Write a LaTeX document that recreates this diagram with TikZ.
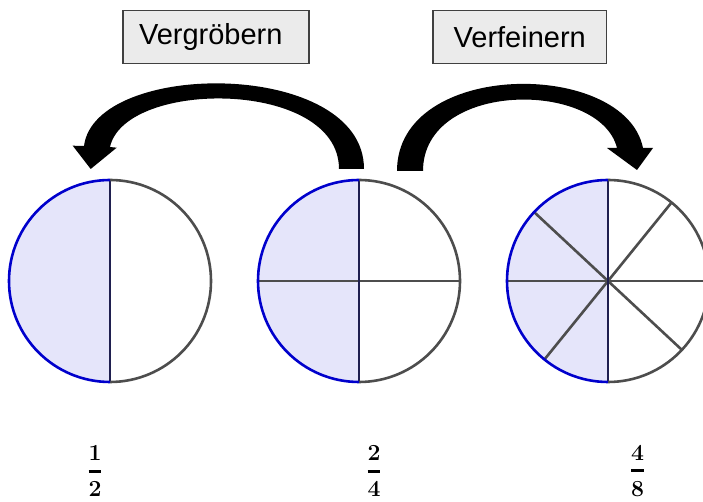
\documentclass[tikz,border=0pt]{standalone}
\usepackage{amsmath}
\usepackage{fontspec}
\newfontfamily\arial{Liberation Sans}
\usepackage{tikz}
\usetikzlibrary{shapes,arrows}
\definecolor{randblau}{HTML}{0000CC}
\definecolor{randgrau}{HTML}{4D4D4D}
\definecolor{teilfarbe}{HTML}{1F1F4F}
\definecolor{flaeche}{HTML}{E5E5FA}
\definecolor{knopfgrau}{HTML}{EBEBEB}

\begin{document}
\begin{tikzpicture}
		[
		x = 1pt, y = 1pt,
		knopf/.style = {draw = black!75, fill = knopfgrau, line width = 1.2pt, minimum height = 52.6pt, inner sep = 0pt, font = \arial\fontsize{29}{33}\selectfont},
		kreis/.style = {circle, minimum size = 202pt, inner sep = 0pt, outer sep = 0pt},
		halb/.style = {fill = flaeche},
		blaurand/.style = {draw = randblau, line width = 2.6pt},
		graurand/.style = {draw = randgrau, line width = 2.6pt},
		teiler/.style = {draw = teilfarbe, line width = 2.6pt},
		pfeil/.style = {fill = black},
		bruch/.style = {font = \fontsize{23}{27}\selectfont, inner sep = 0pt}
		]
		
		\useasboundingbox (0,0) rectangle (703,502);
		
		\node[knopf, inner xsep = 16pt, text width = 154pt, align = left] (grob) at (216,465) {Vergröbern};
		\node[knopf, minimum width = 173.5pt] (fein) at (519.75,465) {Verfeinern};
		
		\node[kreis] (k1) at (110,221) {};
		\node[kreis] (k2) at (359,221) {};
		\node[kreis] (k3) at (608,221) {};
		
		% halbe
		\fill[halb] (k1.north) arc[start angle = 90, end angle = 270, radius = 101] -- cycle;
		\draw[teiler] (k1.north) -- (k1.south);
		\draw[graurand] (k1.south) arc[start angle = -90, end angle = 90, radius = 101];
		\draw[blaurand] (k1.north) arc[start angle = 90, end angle = 270, radius = 101];
		
		% viertel
		\fill[halb] (k2.north) arc[start angle = 90, end angle = 270, radius = 101] -- cycle;
		\draw[graurand] (k2.west) -- (k2.east);
		\draw[teiler] (k2.north) -- (k2.south);
		\draw[graurand] (k2.south) arc[start angle = -90, end angle = 90, radius = 101];
		\draw[blaurand] (k2.north) arc[start angle = 90, end angle = 270, radius = 101];
		
		% achtel
		\fill[halb] (k3.north) arc[start angle = 90, end angle = 270, radius = 101] -- cycle;
		\draw[graurand] (k3.west) -- (k3.east);
		\draw[graurand] (k3.137) -- (k3.317);
		\draw[graurand] (k3.51) -- (k3.231);
		\draw[teiler] (k3.north) -- (k3.south);
		\draw[graurand] (k3.south) arc[start angle = -90, end angle = 90, radius = 101];
		\draw[blaurand] (k3.north) arc[start angle = 90, end angle = 270, radius = 101];
		
		\fill[pfeil] (364,333) .. controls (364,443) and (95,443) .. (84,356)
			-- (72.7,356.3) -- (90.7,333) -- (116.7,354.3) -- (110,355)
			.. controls (125,423) and (339,423) .. (339,333) -- cycle;
		\fill[pfeil] (397,331) .. controls (397,443) and (625,443) .. (643,354)
			-- (653,354) -- (637,332) -- (607,354) -- (617,354)
			.. controls (600,422) and (423,422) .. (423,331) -- cycle;
		
		\node[bruch] (b1) at (95,31) {$\genfrac{}{}{3pt}{0}{\textbf{1}}{\textbf{2}}$};
		\node[bruch] (b2) at (374,31) {$\genfrac{}{}{3pt}{0}{\textbf{2}}{\textbf{4}}$};
		\node[bruch] (b3) at (637.7,31) {$\genfrac{}{}{3pt}{0}{\textbf{4}}{\textbf{8}}$};
		
\end{tikzpicture}
\end{document}
